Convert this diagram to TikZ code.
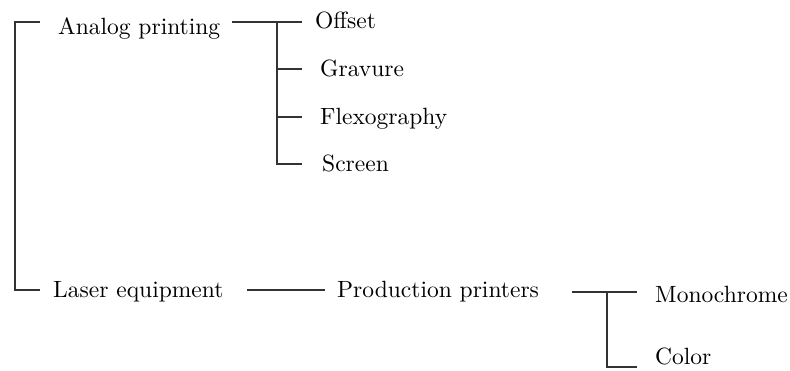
\documentclass[tikz,border=0pt]{standalone}
\usepackage{fontspec}
\setmainfont{lmroman10-regular.otf}
\begin{document}
\begin{tikzpicture}[x=1pt,y=-1pt,
  lbl/.style={anchor=base west,inner sep=0pt,font=\fontsize{23.5}{28}\selectfont},
  conn/.style={draw=black!80,line width=1.3pt}]
\useasboundingbox (0,0) rectangle (790,371);
% labels
\node[lbl] (analog) at (58,35) {Analog printing};
\node[lbl] (laser) at (53,298) {Laser equipment};
\node[lbl] (offset) at (315,29) {Offset};
\node[lbl] (gravure) at (320,77) {Gravure};
\node[lbl] (flexo) at (320,125) {Flexography};
\node[lbl] (screen) at (322,172) {Screen};
\node[lbl] (prod) at (337,298) {Production printers};
\node[lbl] (mono) at (655,303) {Monochrome};
\node[lbl] (color) at (655,365) {Color};
% junction coordinates
\coordinate (r1) at (15,22);
\coordinate (r1e) at (40,22);
\coordinate (r2) at (15,290);
\coordinate (r2e) at (40,290);
\coordinate (a1) at (232,22);
\coordinate (a2) at (302,22);
\coordinate (aj) at (277,22);
\coordinate (g1) at (277,69);
\coordinate (g2) at (302,69);
\coordinate (f1) at (277,117);
\coordinate (f2) at (302,117);
\coordinate (s1) at (277,164);
\coordinate (s2) at (302,164);
\coordinate (l1) at (247,290);
\coordinate (l2) at (325,290);
\coordinate (p1) at (572,292);
\coordinate (p2) at (637,292);
\coordinate (pj) at (607,292);
\coordinate (c1) at (607,367);
\coordinate (c2) at (637,367);
% connectors
\draw[conn] (r1e) -- (r1) -- (r2) -- (r2e);
\draw[conn] (a1) -- (a2);
\draw[conn] (aj) -- (s1) -- (s2);
\draw[conn] (g1) -- (g2);
\draw[conn] (f1) -- (f2);
\draw[conn] (l1) -- (l2);
\draw[conn] (p1) -- (p2);
\draw[conn] (pj) -- (c1) -- (c2);
\end{tikzpicture}
\end{document}
